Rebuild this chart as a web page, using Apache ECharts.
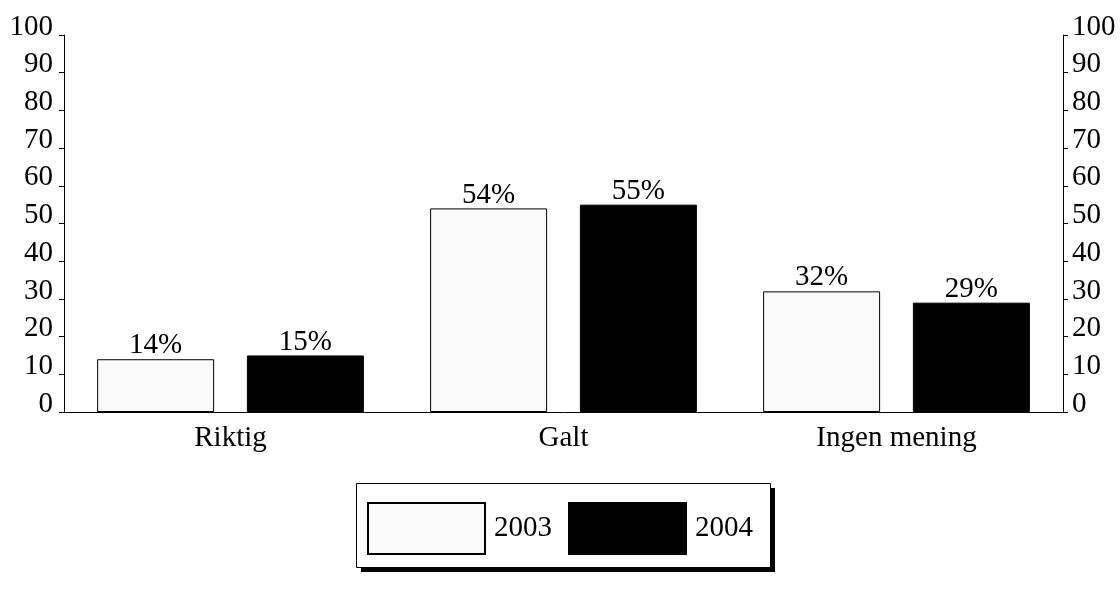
<!DOCTYPE html>
<html><head><meta charset="utf-8">
<script src="https://cdn.jsdelivr.net/npm/echarts@6/dist/echarts.min.js"></script>
<style>html,body{margin:0;padding:0;background:#fff}#c{width:1120px;height:600px}</style>
</head><body><div id="c"></div>
<script>
const categories = ['Riktig', 'Galt', 'Ingen mening'];
const seriesNames = ['2003', '2004'];
const values2003 = [14, 54, 32];
const values2004 = [15, 55, 29];
const FONT = '"Liberation Serif", "Times New Roman", serif';
const FS = 29;
const chart = echarts.init(document.getElementById('c'));
function yAxis(pos, margin) {
  return {
    type: 'value', min: 0, max: 100, interval: 10, position: pos,
    axisLine: {show: true, lineStyle: {color: '#000', width: 1}},
    axisTick: {show: true, length: 5, lineStyle: {color: '#000'}},
    splitLine: {show: false},
    axisLabel: {color: '#000', fontFamily: FONT, fontSize: FS, margin: margin,
      verticalAlign: 'bottom', lineHeight: 16}
  };
}
const labelStyle = {show: true, position: 'top', distance: -1, formatter: '{c}%',
  color: '#000', fontFamily: FONT, fontSize: FS};
chart.setOption({
  animation: false,
  textStyle: {fontFamily: FONT},
  grid: {left: 64, right: 57, top: 35, bottom: 188, containLabel: false},
  xAxis: {
    type: 'category', data: categories,
    axisLine: {show: true, lineStyle: {color: '#000', width: 1}},
    axisTick: {show: false},
    axisLabel: {color: '#000', fontFamily: FONT, fontSize: FS, margin: 12}
  },
  yAxis: [yAxis('left', 11), yAxis('right', 9)],
  graphic: [
    {type: 'rect', z: 0, shape: {x: 361, y: 488, width: 414, height: 84}, style: {fill: '#000'}},
    {type: 'rect', z: 1, shape: {x: 356.5, y: 483.5, width: 414, height: 84}, style: {fill: '#fff', stroke: '#000', lineWidth: 1}}
  ],
  legend: {
    left: 367, top: 502, padding: 0,
    icon: 'rect',
    itemWidth: 117, itemHeight: 51, itemGap: 16,
    textStyle: {color: '#000', fontFamily: FONT, fontSize: FS, padding: [0, 0, 0, 4]},
    data: seriesNames
  },
  series: [
    {
      name: seriesNames[0], type: 'bar', data: values2003,
      barWidth: 117, barGap: '28%',
      itemStyle: {color: '#fafafa', borderColor: '#000', borderWidth: 1},
      label: labelStyle
    },
    {
      name: seriesNames[1], type: 'bar', data: values2004,
      barWidth: 117, barGap: '28%',
      itemStyle: {color: '#000', borderColor: '#000', borderWidth: 1},
      label: labelStyle
    }
  ]
});
</script></body></html>
